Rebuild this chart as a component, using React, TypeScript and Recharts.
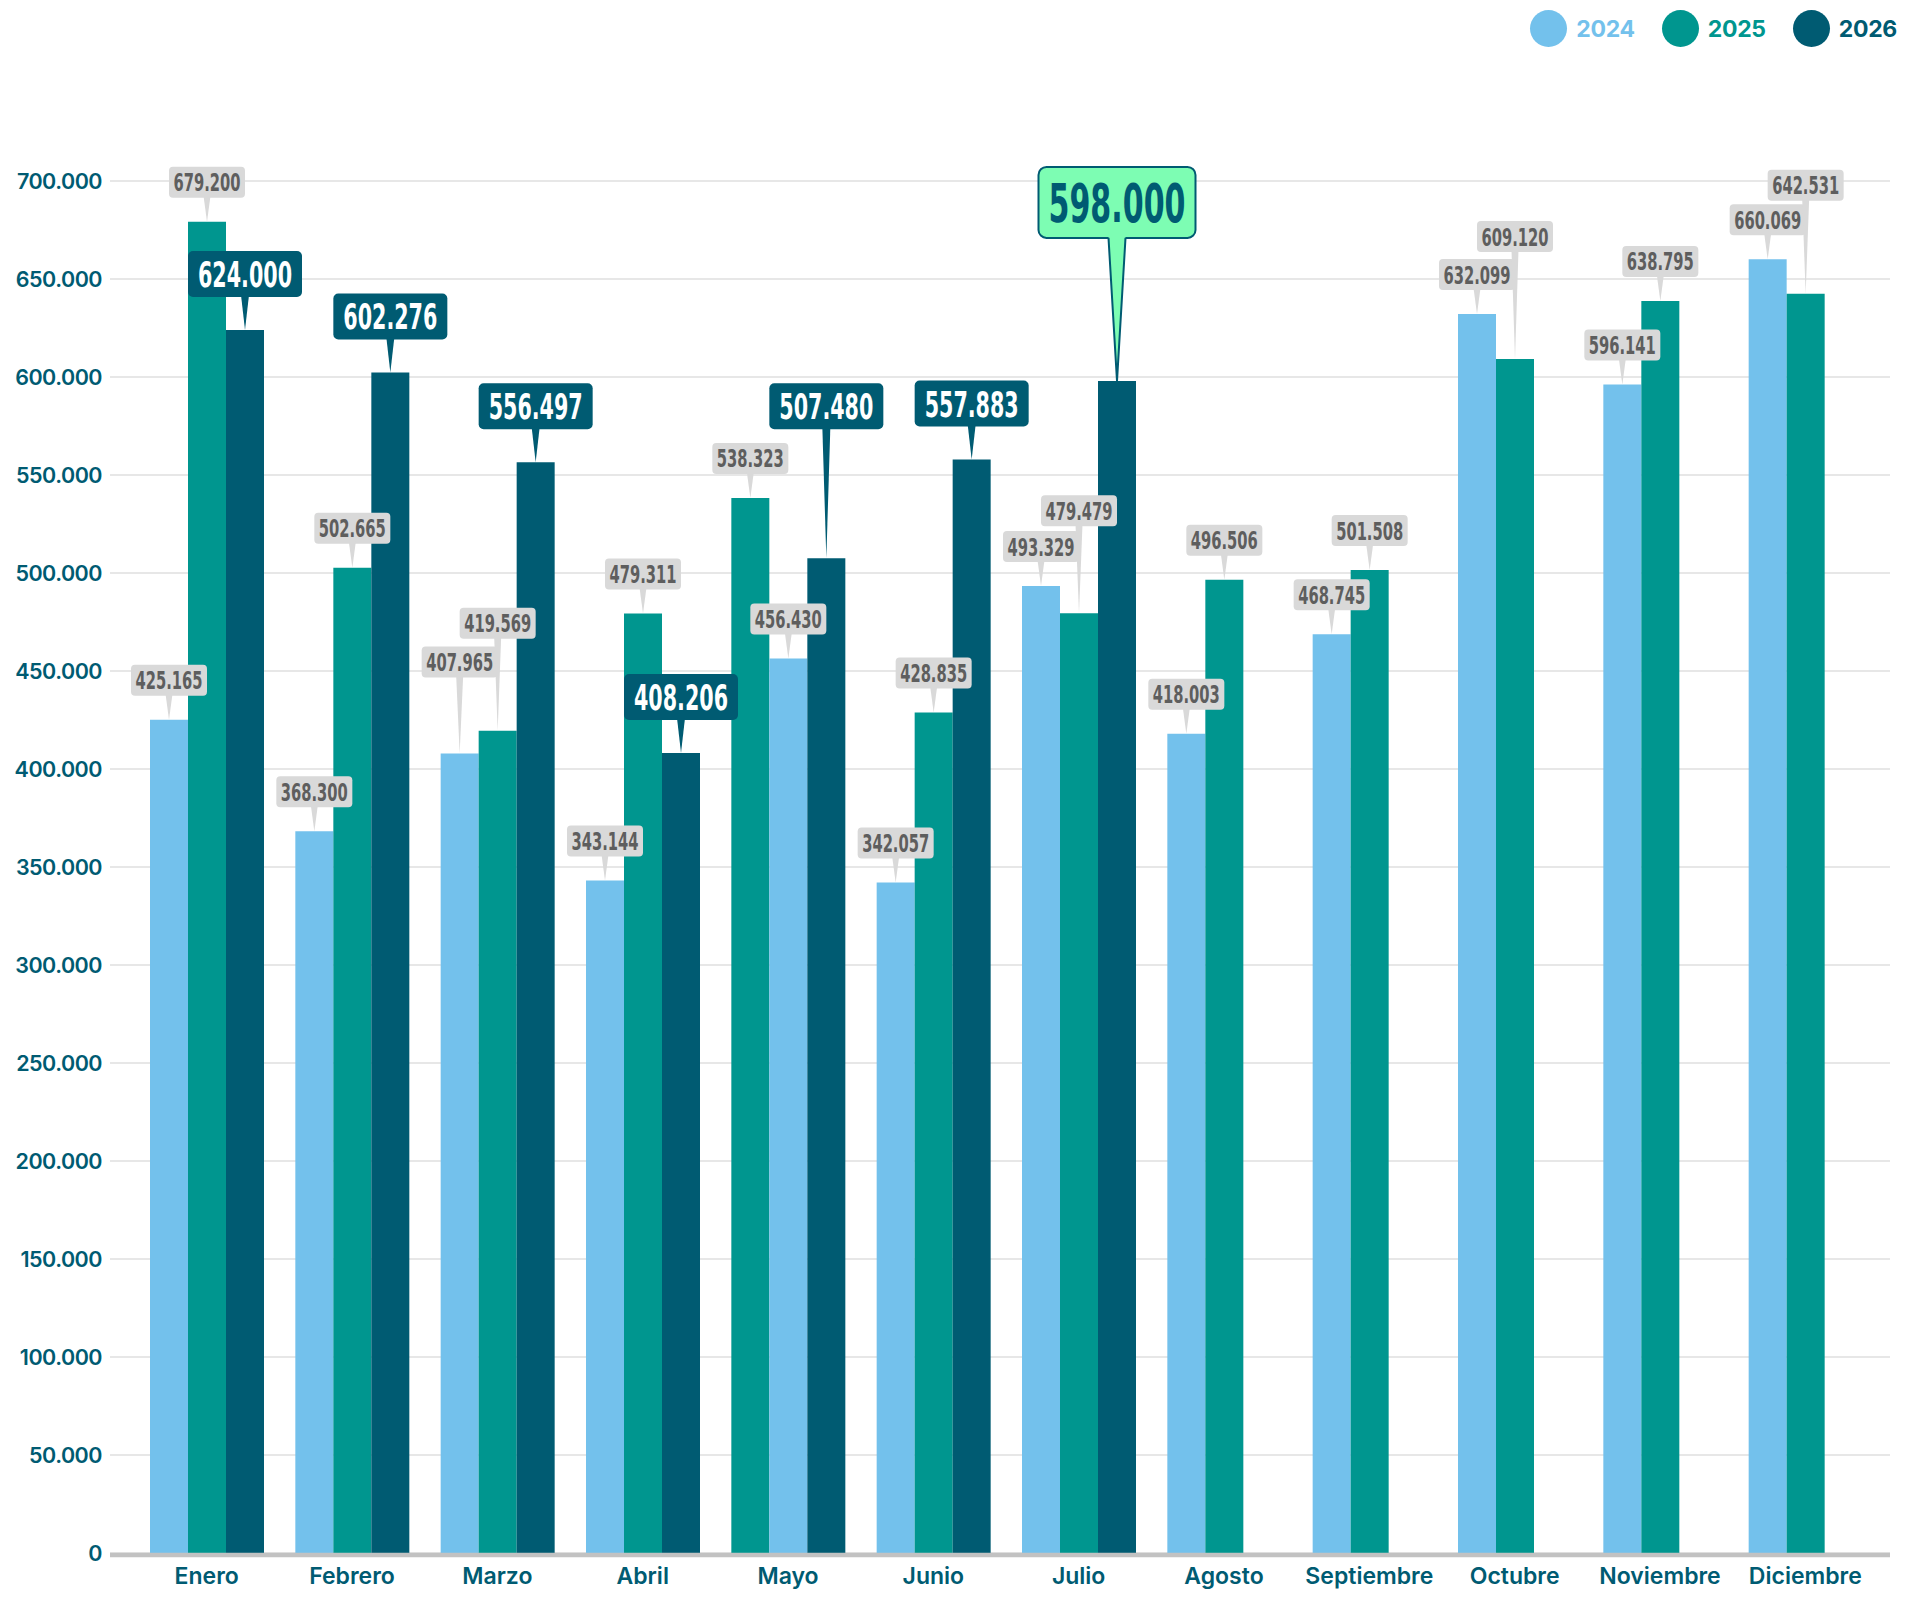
import React from "react";
import { BarChart, Bar, XAxis, YAxis, CartesianGrid, Cell, LabelList } from "recharts";

const months = [
  "Enero", "Febrero", "Marzo", "Abril", "Mayo", "Junio",
  "Julio", "Agosto", "Septiembre", "Octubre", "Noviembre", "Diciembre",
];
const years = ["2024", "2025", "2026"];
const values2024 = [425165, 368300, 407965, 343144, 456430, 342057, 493329, 418003, 468745, 632099, 596141, 660069];
const values2025 = [679200, 502665, 419569, 479311, 538323, 428835, 479479, 496506, 501508, 609120, 638795, 642531];
const values2026 = [624000, 602276, 556497, 408206, 507480, 557883, 598000, null, null, null, null, null];
const yTicks = [0, 50000, 100000, 150000, 200000, 250000, 300000, 350000, 400000, 450000, 500000, 550000, 600000, 650000, 700000];

// in the original, Mayo shows 2025 before 2024
const slotOrder: Record<string, string[]> = { Mayo: ["2025", "2024", "2026"] };
const highlighted = "Julio-2026";

const COLORS: Record<string, string> = {
  "2024": "#73c1ec",
  "2025": "#00968f",
  "2026": "#005b72",
};

// labels that were pushed up to dodge their neighbours (px from bar top to box)
const labelLift: Record<string, number> = {
  "Marzo-2024": 76,
  "Marzo-2025": 92,
  "Mayo-2026": 129,
  "Julio-2025": 87,
  "Julio-2026": 143,
  "Octubre-2025": 107,
  "Diciembre-2025": 93,
};

const seriesValues: Record<string, (number | null)[]> = {
  "2024": values2024,
  "2025": values2025,
  "2026": values2026,
};

const rows = months.map((month, i) => {
  const order = slotOrder[month] ?? years;
  return {
    month,
    order,
    s0: seriesValues[order[0]][i],
    s1: seriesValues[order[1]][i],
    s2: seriesValues[order[2]][i],
  };
});

const fmt = (v: number) => String(v).replace(/\B(?=(\d{3})+(?!\d))/g, ".");

const W = 1920;
const H = 1600;
const AXIS_COLOR = "#005b72";
const LABEL_FONT = '"Liberation Sans Narrow", "DejaVu Sans Condensed", "Roboto Condensed", sans-serif';

const STYLES = {
  small: { w: 76, h: 31, r: 4, fs: 25, tw: 67, lift: 24, base: 7, fill: "#d9d9d9", stroke: "none", text: "#5e5e5e" },
  big: { w: 114, h: 46, r: 5, fs: 36, tw: 94, lift: 33, base: 8, fill: "#005b72", stroke: "none", text: "#ffffff" },
  hot: { w: 157, h: 71, r: 8, fs: 54, tw: 137, lift: 143, base: 17, fill: "#7dfdb3", stroke: "#005b72", text: "#005b72" },
};

const makeLabel = (slot: number) => (props: any) => {
  const vb = props.viewBox ?? {};
  const x = vb.x ?? props.x;
  const y = vb.y ?? props.y;
  const w = vb.width ?? props.width;
  const { index, value } = props;
  if (value == null || index == null || x == null) return null;
  const month = months[index];
  const year = rows[index].order[slot];
  const key = `${month}-${year}`;
  const s = key === highlighted ? STYLES.hot : year === "2026" ? STYLES.big : STYLES.small;
  const lift = labelLift[key] ?? s.lift;
  const cx = x + w / 2;
  const bottom = y - lift;
  const top = bottom - s.h;
  const hb = s.base / 2;
  return (
    <g key={`lbl-${slot}-${index}`}>
      <rect
        x={cx - s.w / 2}
        y={top}
        width={s.w}
        height={s.h}
        rx={s.r}
        fill={s.fill}
        stroke={s.stroke}
        strokeWidth={2}
      />
      <path d={`M${cx - hb},${bottom - 2} L${cx + hb},${bottom - 2} L${cx},${y} Z`} fill={s.fill} />
      {s.stroke !== "none" && (
        <path
          d={`M${cx - hb},${bottom} L${cx},${y} L${cx + hb},${bottom}`}
          fill="none"
          stroke={s.stroke}
          strokeWidth={2}
        />
      )}
      <text
        x={cx}
        y={top + s.h / 2 + s.fs * 0.36}
        textAnchor="middle"
        fontFamily={LABEL_FONT}
        fontWeight={700}
        fontSize={s.fs}
        fill={s.text}
        textLength={s.tw}
        lengthAdjust="spacingAndGlyphs"
      >
        {fmt(value)}
      </text>
    </g>
  );
};

const Chart = ({ labelsOnly }: { labelsOnly: boolean }) => (
  <BarChart
    width={W}
    height={H}
    data={rows}
    margin={{ top: 181, right: 30, bottom: 7, left: 0 }}
    barCategoryGap={16}
    barGap={0}
  >
    {!labelsOnly && <CartesianGrid vertical={false} stroke="#dfdfdf" strokeWidth={1.5} />}
    <XAxis
      dataKey="month"
      height={40}
      padding={{ left: 24, right: 12 }}
      tickLine={false}
      tickMargin={9}
      axisLine={labelsOnly ? false : { stroke: "#c2c2c2", strokeWidth: 4.5, transform: "translate(0,2)" }}
      tick={labelsOnly ? false : { fill: AXIS_COLOR, fontSize: 23, fontWeight: 600, fontFamily: "Inter" }}
      interval={0}
    />
    <YAxis
      width={110}
      domain={[0, 700000]}
      ticks={yTicks}
      tickFormatter={fmt}
      axisLine={false}
      tickLine={false}
      tick={
        labelsOnly
          ? false
          : { fill: AXIS_COLOR, fontSize: 21.5, fontWeight: 600, fontFamily: "Inter", letterSpacing: -0.5 }
      }
    />
    {[0, 1, 2].map((slot) => (
      <Bar key={slot} dataKey={`s${slot}`} isAnimationActive={false} fillOpacity={labelsOnly ? 0 : 1}>
        {rows.map((row) => (
          <Cell key={row.month} fill={COLORS[row.order[slot]]} />
        ))}
        {labelsOnly && <LabelList dataKey={`s${slot}`} content={makeLabel(slot)} />}
      </Bar>
    ))}
  </BarChart>
);

const Legend = () => (
  <div
    style={{
      position: "absolute",
      top: 10,
      right: 23,
      display: "flex",
      alignItems: "center",
      fontFamily: "Inter",
      fontWeight: 700,
      fontSize: 23,
      letterSpacing: -0.3,
    }}
  >
    {years.map((y, i) => (
      <div key={y} style={{ display: "flex", alignItems: "center", marginLeft: i === 0 ? 0 : 27 }}>
        <span
          style={{ width: 37, height: 37, borderRadius: "50%", background: COLORS[y], display: "block", marginRight: 9 }}
        />
        <span style={{ color: COLORS[y] }}>{y}</span>
      </div>
    ))}
  </div>
);

export default function App() {
  return (
    <div style={{ position: "relative", width: W, height: H, background: "#fff" }}>
      <style>{"body{margin:0}"}</style>
      <div style={{ position: "absolute", left: 0, top: 0 }}>
        <Chart labelsOnly={false} />
      </div>
      <div style={{ position: "absolute", left: 0, top: 0 }}>
        <Chart labelsOnly={true} />
      </div>
      <Legend />
    </div>
  );
}
